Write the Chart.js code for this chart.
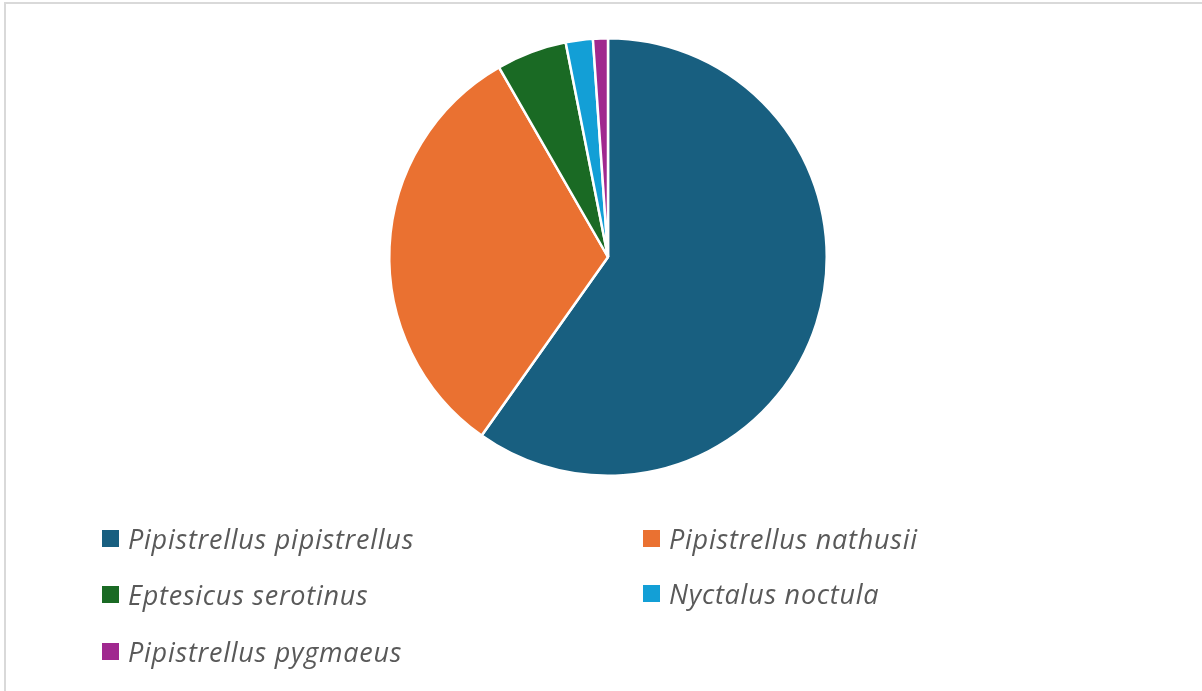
<!DOCTYPE html>
<html>
<head>
<meta charset="utf-8">
<script src="https://cdn.jsdelivr.net/npm/chart.js@4/dist/chart.umd.min.js"></script>
<style>
  html, body { margin: 0; padding: 0; background: #ffffff; }
  #wrap { position: relative; width: 1202px; height: 691px; overflow: hidden; }
  #frame { position: absolute; left: 4px; top: 2px; right: -10px; bottom: -10px;
           border-top: 2px solid #d9d9d9; border-left: 2px solid #d9d9d9; }
  canvas { position: absolute; left: 0; top: 0; }
  .leg { position: absolute; display: flex; align-items: center; height: 30px;
         font-family: "Open Sans", Lato, sans-serif; font-style: italic;
         font-size: 27px; letter-spacing: 0.75px; color: #595959; white-space: nowrap; }
  .leg .sw { width: 17px; height: 17px; margin-right: 9px; flex: none; }
</style>
</head>
<body>
<div id="wrap">
  <div id="frame"></div>
  <canvas id="c" width="1202" height="691"></canvas>
  <div id="legend"></div>
</div>
<script>
// Bat species recorded and their share of the recordings (%)
const species = [
  'Pipistrellus pipistrellus',
  'Pipistrellus nathusii',
  'Eptesicus serotinus',
  'Nyctalus noctula',
  'Pipistrellus pygmaeus'
];
const share = [59.8, 31.9, 5.2, 2.0, 1.1];
const colors = ['#185f80', '#ea7131', '#1a6a24', '#139fd6', '#a0288f'];

// legend grid: order of items, two columns
const legendSlots = [
  { x: 102, y: 523 }, { x: 643, y: 523 },
  { x: 102, y: 579 }, { x: 643, y: 578 },
  { x: 102, y: 636 }
];

const chart = new Chart(document.getElementById('c'), {
  type: 'pie',
  data: {
    labels: species,
    datasets: [{
      data: share,
      backgroundColor: colors,
      borderColor: '#ffffff',
      borderWidth: 2.5
    }]
  },
  options: {
    responsive: false,
    animation: false,
    layout: { padding: { top: 37, bottom: 214, left: 388, right: 374 } },
    plugins: {
      legend: { display: false },
      tooltip: { enabled: false }
    }
  }
});

// HTML legend built from the chart's own legend items
const legendEl = document.getElementById('legend');
const items = chart.options.plugins.legend.labels.generateLabels(chart);
items.forEach((it, i) => {
  const row = document.createElement('div');
  row.className = 'leg';
  row.style.left = legendSlots[i].x + 'px';
  row.style.top = legendSlots[i].y + 'px';
  const sw = document.createElement('span');
  sw.className = 'sw';
  sw.style.background = it.fillStyle;
  const tx = document.createElement('span');
  tx.textContent = it.text;
  row.appendChild(sw);
  row.appendChild(tx);
  legendEl.appendChild(row);
});
</script>
</body>
</html>
